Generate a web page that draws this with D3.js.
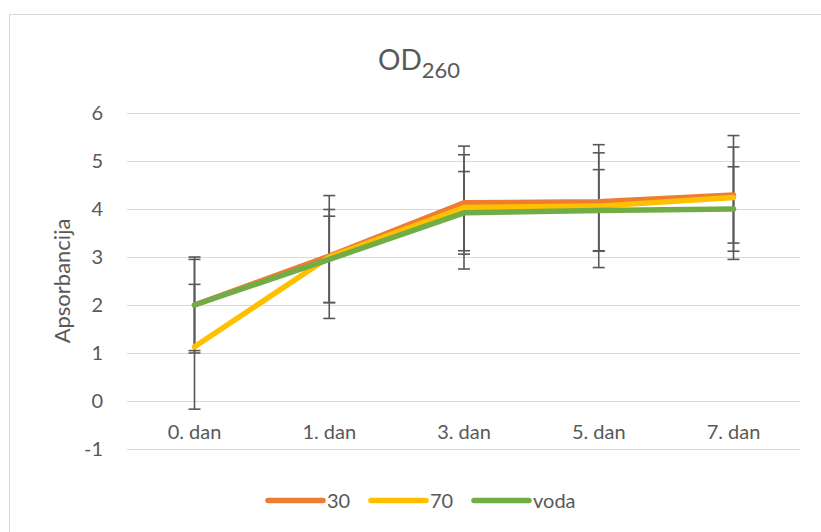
<!DOCTYPE html>
<html><head><meta charset="utf-8">
<script src="https://cdn.jsdelivr.net/npm/d3@7"></script>
<style>body{margin:0;background:#fff}svg{display:block;font-family:Lato,"Open Sans",sans-serif}</style>
</head><body><svg id="c" width="821" height="532"></svg>
<script>
const categories = ["0. dan","1. dan","3. dan","5. dan","7. dan"];
const seriesNames = ["30","70","voda"];
const values30   = [2.0, 3.02, 4.13, 4.15, 4.29];
const values70   = [1.13, 3.0, 4.03, 4.06, 4.24];
const valuesVoda = [2.0, 2.95, 3.92, 3.97, 4.0];
const err30   = [0.95, 0.97, 1.0, 1.02, 1.0];
const err70   = [1.3, 1.28, 1.28, 1.28, 1.29];
const errVoda = [1.0, 0.9, 0.86, 0.85, 0.88];
const yTicks = [-1,0,1,2,3,4,5,6];
const colors = ["#ED7D31","#FFC000","#70AD47"];

const series = [
  {name:seriesNames[0], vals:values30, err:err30, color:colors[0]},
  {name:seriesNames[1], vals:values70, err:err70, color:colors[1]},
  {name:seriesNames[2], vals:valuesVoda, err:errVoda, color:colors[2]}
];

const svg = d3.select("#c");
svg.append("rect").attr("x",9.5).attr("y",14.5).attr("width",900).attr("height",600)
  .attr("fill","none").attr("stroke","#D9D9D9").attr("stroke-width",1);

const x = d3.scalePoint().domain(categories).range([194.5,733.5]);
const y = d3.scaleLinear().domain([-1,6]).range([449,113]);
const plotL = 127, plotR = 800;

svg.append("g").selectAll("line").data(yTicks).join("line")
  .attr("x1",plotL).attr("x2",plotR)
  .attr("y1",d=>Math.round(y(d))+0.5).attr("y2",d=>Math.round(y(d))+0.5)
  .attr("stroke","#D9D9D9").attr("stroke-width",1);

svg.append("g").selectAll("text").data(yTicks).join("text")
  .attr("x",103).attr("y",d=>y(d)).attr("dy","0.35em")
  .attr("text-anchor","end").attr("fill","#595959").attr("font-size",20)
  .text(d=>d);

svg.append("g").selectAll("text").data(categories).join("text")
  .attr("x",d=>x(d)).attr("y",432).attr("dy","0.35em")
  .attr("text-anchor","middle").attr("fill","#595959").attr("font-size",20)
  .text(d=>d);

svg.append("text").attr("transform","translate(70,281) rotate(-90)")
  .attr("text-anchor","middle").attr("fill","#595959").attr("font-size",22)
  .text("Apsorbancija");

const t = svg.append("text").attr("x",419).attr("y",70).attr("text-anchor","middle")
  .attr("fill","#595959").attr("font-size",28);
t.append("tspan").text("OD");
t.append("tspan").attr("font-size",22).attr("dy",8).text("260");

const eb = svg.append("g").attr("stroke","#595959").attr("stroke-width",1.6);
series.forEach(s=>{
  s.vals.forEach((v,i)=>{
    const cx = x(categories[i]);
    const hi = y(v + s.err[i]), lo = y(v - s.err[i]);
    eb.append("line").attr("x1",cx).attr("x2",cx).attr("y1",hi).attr("y2",lo);
    eb.append("line").attr("x1",cx-6).attr("x2",cx+6).attr("y1",hi).attr("y2",hi);
    eb.append("line").attr("x1",cx-6).attr("x2",cx+6).attr("y1",lo).attr("y2",lo);
  });
});

const line = d3.line().x((d,i)=>x(categories[i])).y(d=>y(d));
series.forEach(s=>{
  svg.append("path").datum(s.vals).attr("d",line)
    .attr("fill","none").attr("stroke",s.color).attr("stroke-width",5.5)
    .attr("stroke-linecap","round").attr("stroke-linejoin","round");
});

const legX = [268, 371, 474];
series.forEach((s,i)=>{
  const g = svg.append("g");
  g.append("line").attr("x1",legX[i]).attr("x2",legX[i]+55).attr("y1",500.5).attr("y2",500.5)
    .attr("stroke",s.color).attr("stroke-width",5.5).attr("stroke-linecap","round");
  g.append("text").attr("x",legX[i]+59).attr("y",500.5).attr("dy","0.35em")
    .attr("fill","#595959").attr("font-size",20).text(s.name);
});
</script></body></html>
